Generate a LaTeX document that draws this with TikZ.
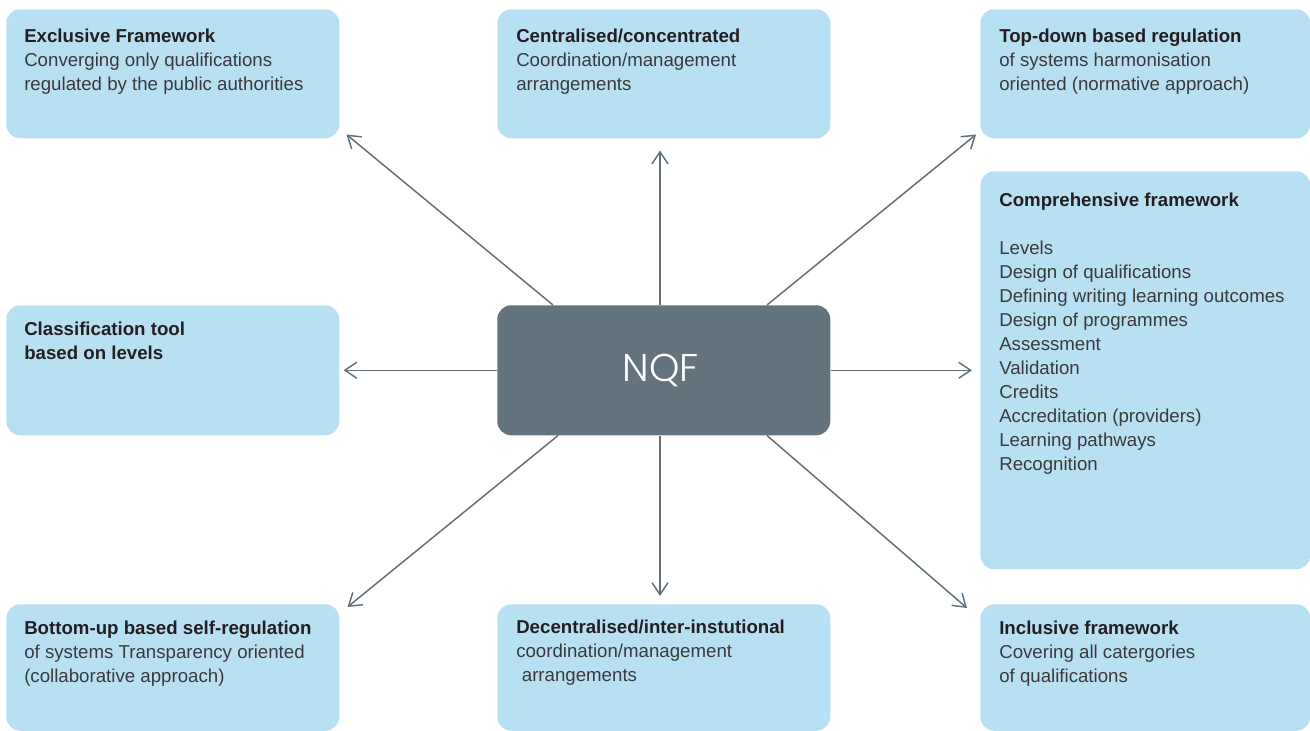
\documentclass[tikz,border=0pt]{standalone}
\usepackage{fontspec}
\setmainfont{Liberation Sans}
\IfFontExistsTF{Poppins Light}{\newfontfamily\nqffont{Poppins Light}}{\newfontfamily\nqffont{Poppins}}
\usetikzlibrary{arrows.meta,calc}
\definecolor{boxblue}{RGB}{184,224,243}
\definecolor{nqfgray}{RGB}{100,116,126}
\definecolor{arrgray}{RGB}{96,111,121}
\definecolor{txtgray}{RGB}{58,58,58}
\definecolor{titleblack}{RGB}{35,31,32}
\newcommand{\ttl}[1]{{\bfseries\color{titleblack}#1}}
\tikzset{
  bluebox/.style={rectangle, fill=boxblue, draw=none, rounded corners=10.5pt, inner sep=0pt, anchor=north west},
  nqfbox/.style={rectangle, fill=nqfgray, draw=none, rounded corners=10.5pt, inner sep=0pt, anchor=north west},
  boxtext/.style={anchor=north west, inner sep=0pt, align=left, text=txtgray, font=\fontsize{14}{18}\selectfont},
  arr/.style={draw=arrgray, line width=1.1pt, -{Straight Barb[length=9pt,width=12pt]}}
}
\begin{document}
\begin{tikzpicture}[x=0.75pt,y=-0.75pt]
\useasboundingbox (0,0) rectangle (1310,731);
% boxes
\node[bluebox, minimum width={333*0.75pt}, minimum height={129*0.75pt}] (tl) at (6,9) {};
\node[bluebox, minimum width={333*0.75pt}, minimum height={129*0.75pt}] (tc) at (497,9) {};
\node[bluebox, minimum width={330*0.75pt}, minimum height={129*0.75pt}] (tr) at (980,9) {};
\node[bluebox, minimum width={333*0.75pt}, minimum height={130*0.75pt}] (ml) at (6,305) {};
\node[nqfbox, minimum width={333*0.75pt}, minimum height={130*0.75pt}] (c) at (497,305) {};
\node[bluebox, minimum width={330*0.75pt}, minimum height={398*0.75pt}] (rl) at (980,171) {};
\node[bluebox, minimum width={333*0.75pt}, minimum height={126.5*0.75pt}] (bl) at (6,604) {};
\node[bluebox, minimum width={333*0.75pt}, minimum height={126.5*0.75pt}] (bc) at (497,604) {};
\node[bluebox, minimum width={330*0.75pt}, minimum height={126.5*0.75pt}] (br) at (980,604) {};
% texts
\node[boxtext] (tlt) at ($(tl.north west)+(18,16.2)$) {\strut\ttl{Exclusive Framework}\\Converging only qualifications\\regulated by the public authorities};
\node[boxtext] (tct) at ($(tc.north west)+(19,16.2)$) {\strut\ttl{Centralised/concentrated}\\Coordination/management\\arrangements};
\node[boxtext] (trt) at ($(tr.north west)+(19,16.2)$) {\strut\ttl{Top-down based regulation}\\of systems harmonisation\\oriented (normative approach)};
\node[boxtext] (mlt) at ($(ml.north west)+(18,13.2)$) {\strut\ttl{Classification tool}\\\ttl{based on levels}};
\node[boxtext] (rlt) at ($(rl.north west)+(19,18.9)$) {\strut\ttl{Comprehensive framework}\\\strut\\Levels\\Design of qualifications\\Defining writing learning outcomes\\Design of programmes\\Assessment\\Validation\\Credits\\Accreditation (providers)\\Learning pathways\\Recognition};
\node[boxtext] (blt) at ($(bl.north west)+(18,13.2)$) {\strut\ttl{Bottom-up based self-regulation}\\of systems Transparency oriented\\(collaborative approach)};
\node[boxtext] (bct) at ($(bc.north west)+(19,12.7)$) {\strut\ttl{Decentralised/inter-instutional}\\coordination/management\\\hspace*{0.3em}arrangements};
\node[boxtext] (brt) at ($(br.north west)+(19,13.2)$) {\strut\ttl{Inclusive framework}\\Covering all catergories\\of qualifications};
\node[text=white, font=\nqffont\fontsize{29}{30}\selectfont, inner sep=0pt] (nqf) at ($(c.center)+(-3,0)$) {NQF};
% arrows
\draw[arr] ($(c.north west)+(56,0)$) -- ($(tl.south east)+(7,-4)$);
\draw[arr] ($(c.north west)+(163,0)$) -- ($(tc.south west)+(163,12)$);
\draw[arr] ($(c.north west)+(270,0)$) -- ($(tr.south west)+(-4,-4)$);
\draw[arr] (c.west) -- ($(ml.east)+(4,0)$);
\draw[arr] (c.east) -- ($(rl.west)+(-8,0)$);
\draw[arr] ($(c.south west)+(61,0)$) -- ($(bl.north east)+(8,3)$);
\draw[arr] ($(c.south west)+(163,0)$) -- ($(bc.north west)+(163,-8)$);
\draw[arr] ($(c.south west)+(270,0)$) -- ($(br.north west)+(-13,4)$);
\end{tikzpicture}
\end{document}
